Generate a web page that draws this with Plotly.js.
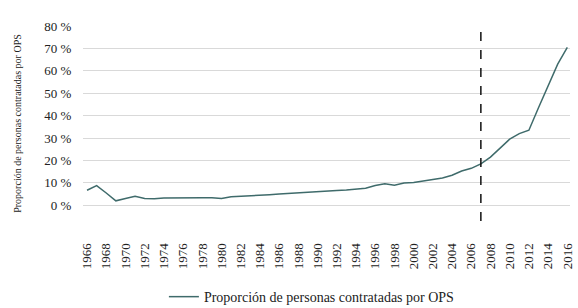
<!DOCTYPE html>
<html>
<head>
<meta charset="utf-8">
<script src="https://cdn.plot.ly/plotly-3.0.1.min.js"></script>
<style>html,body{margin:0;padding:0;background:#fff;}#chart{width:578px;height:308px;}</style>
</head>
<body>
<div id="chart"></div>
<script>
const years = [1966,1967,1968,1969,1970,1971,1972,1973,1974,1975,1976,1977,1978,1979,1980,1981,1982,1983,1984,1985,1986,1987,1988,1989,1990,1991,1992,1993,1994,1995,1996,1997,1998,1999,2000,2001,2002,2003,2004,2005,2006,2007,2008,2009,2010,2011,2012,2013,2014,2015,2016];
const proporcion = [6.7,8.8,5.5,2.0,3.0,4.0,3.0,2.9,3.3,3.4,3.4,3.4,3.4,3.4,3.0,3.8,4.0,4.0,4.3,4.7,5.0,5.3,5.6,6.0,6.2,6.4,6.6,6.8,7.2,7.6,8.8,9.6,9.0,10.0,10.2,10.8,11.6,12.2,13.4,15.3,16.5,18.5,21.5,25.5,29.5,32.0,33.5,43.5,53.0,63.0,70.5];
const seriesName = "Proporción de personas contratadas por OPS";
const yTitle = "Proporción de personas contratadas por OPS";
const markerYear = 2007;
const xTickVals = [1966,1968,1970,1972,1974,1976,1978,1980,1982,1984,1986,1988,1990,1992,1994,1996,1998,2000,2002,2004,2006,2008,2010,2012,2014,2016];
const xTickText = xTickVals.map(String);
const yTickVals = [0,10,20,30,40,50,60,70,80];
const yTickText = yTickVals.map(v => v + " %");

const serif = "Liberation Serif, DejaVu Serif, serif";

Plotly.newPlot("chart", [{
  x: years, y: proporcion, type: "scatter", mode: "lines", name: seriesName,
  line: {color: "#3f6b6b", width: 1.5}
}], {
  width: 578, height: 308,
  margin: {l: 83, r: 8, t: 26, b: 87, autoexpand: false},
  paper_bgcolor: "#fff", plot_bgcolor: "#fff",
  font: {family: serif, color: "#222"},
  showlegend: true,
  legend: {orientation: "h", x: 0.47, xanchor: "center", y: -0.39, yanchor: "middle",
    font: {family: serif, size: 14, color: "#222"}},
  xaxis: {range: [1965.58, 2016.28], tickvals: xTickVals, ticktext: xTickText, tickangle: -90,
    showgrid: false, zeroline: false, showline: false, ticks: "outside", ticklen: 16, tickcolor: "rgba(0,0,0,0)",
    tickfont: {family: serif, size: 13, color: "#222"}, automargin: false},
  yaxis: {range: [-7, 80], tickvals: yTickVals, ticktext: yTickText, showgrid: true, gridcolor: "#d9d9d9", gridwidth: 1,
    zeroline: false, showline: false, ticks: "outside", ticklen: 8, tickcolor: "rgba(0,0,0,0)",
    tickfont: {family: serif, size: 13, color: "#222"}, automargin: false,
    title: {text: yTitle, font: {family: serif, size: 10, color: "#222"}, standoff: 20}},
  shapes: [{type: "line", xref: "x", yref: "y", x0: markerYear, x1: markerYear, y0: -7, y1: 80,
    line: {color: "#111", width: 1.5, dash: "dash"}}]
}, {displayModeBar: false, staticPlot: true});
</script>
</body>
</html>
